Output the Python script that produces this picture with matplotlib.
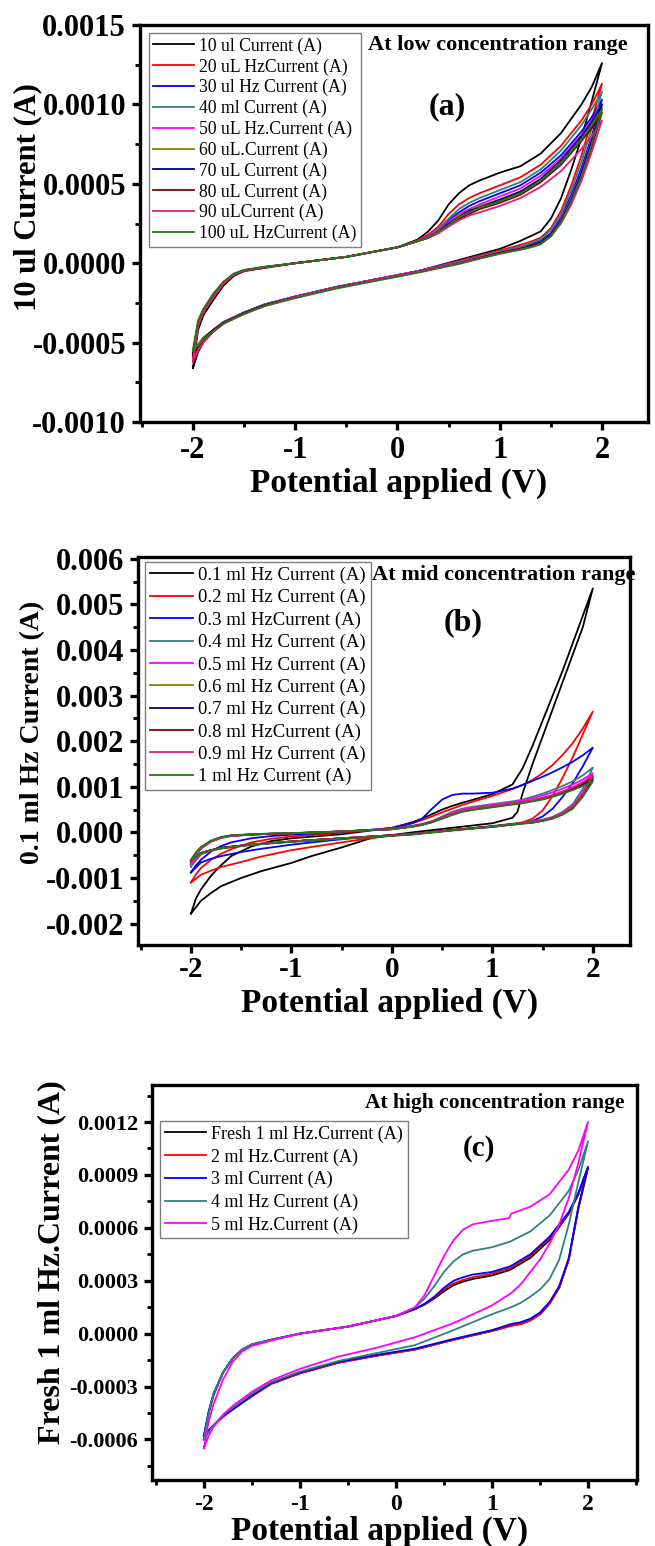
import matplotlib
matplotlib.use("Agg")
import matplotlib.pyplot as plt
from matplotlib.ticker import MultipleLocator, FormatStrFormatter, AutoMinorLocator

plt.rcParams['font.family'] = ['Liberation Serif', 'DejaVu Serif']

W, H = 655, 1546
fig = plt.figure(figsize=(W / 100, H / 100), dpi=100)

def fx(x):
    return x / W

def fy(y):
    return 1 - y / H

COLORS10 = ['#000000', '#FF0000', '#0000FF', '#2F8080', '#FF00FF',
            '#808000', '#000080', '#800000', '#E61C78', '#207818']
COLORS5 = ['#000000', '#FF0000', '#0000FF', '#2F8080', '#FF00FF']

# ---------------- Panel (a): low concentration (values in mA) ----------------
LABELS_A = ['10 ul Current (A)', '20 uL HzCurrent (A)', '30 ul Hz Current (A)',
            '40 ml Current (A)', '50 uL Hz.Current (A)', '60 uL.Current (A)',
            '70 uL Current (A)', '80 uL Current (A)', '90 uLCurrent (A)',
            '100 uL HzCurrent (A)']
VA_FWD = [-2.0, -1.95, -1.9, -1.8, -1.7, -1.6, -1.5, -1.3, -1.0, -0.5, 0.0, 0.2,
          0.3, 0.4, 0.5, 0.6, 0.7, 0.8, 1.0, 1.2, 1.4, 1.6, 1.8, 1.9, 2.0]
VA_REV = [2.0, 1.9, 1.8, 1.7, 1.6, 1.5, 1.4, 1.3, 1.2, 1.0, 0.6, 0.2, -0.2, -0.6,
          -1.0, -1.3, -1.5, -1.7, -1.8, -1.9, -1.95, -2.0]
IA_FWD = [
    [-0.66, -0.42, -0.33, -0.23, -0.14, -0.08, -0.05, -0.03, 0.00, 0.04, 0.10, 0.15,
     0.20, 0.27, 0.37, 0.44, 0.49, 0.52, 0.57, 0.61, 0.69, 0.82, 1.00, 1.11, 1.26],
    [-0.60, -0.40, -0.31, -0.21, -0.13, -0.075, -0.048, -0.028, 0.00, 0.04, 0.10, 0.145,
     0.18, 0.23, 0.31, 0.37, 0.41, 0.44, 0.49, 0.54, 0.62, 0.74, 0.90, 1.00, 1.13],
    [-0.57, -0.38, -0.30, -0.20, -0.12, -0.07, -0.045, -0.025, 0.00, 0.04, 0.10, 0.14,
     0.17, 0.21, 0.27, 0.32, 0.36, 0.39, 0.44, 0.49, 0.57, 0.68, 0.83, 0.92, 1.03],
    [-0.56, -0.38, -0.30, -0.20, -0.12, -0.07, -0.045, -0.025, 0.00, 0.04, 0.10, 0.14,
     0.17, 0.22, 0.28, 0.34, 0.38, 0.41, 0.46, 0.51, 0.59, 0.71, 0.87, 0.97, 1.08],
    [-0.58, -0.38, -0.30, -0.20, -0.12, -0.07, -0.045, -0.025, 0.00, 0.04, 0.10, 0.14,
     0.17, 0.21, 0.26, 0.31, 0.34, 0.37, 0.42, 0.47, 0.55, 0.66, 0.81, 0.90, 1.00],
    [-0.55, -0.37, -0.29, -0.20, -0.12, -0.07, -0.045, -0.025, 0.00, 0.04, 0.10, 0.14,
     0.16, 0.20, 0.25, 0.30, 0.33, 0.36, 0.40, 0.45, 0.53, 0.64, 0.79, 0.88, 0.98],
    [-0.57, -0.38, -0.30, -0.20, -0.12, -0.07, -0.045, -0.025, 0.00, 0.04, 0.10, 0.14,
     0.16, 0.20, 0.25, 0.29, 0.33, 0.35, 0.40, 0.45, 0.53, 0.65, 0.80, 0.89, 1.00],
    [-0.58, -0.38, -0.30, -0.20, -0.12, -0.07, -0.045, -0.025, 0.00, 0.04, 0.10, 0.14,
     0.16, 0.19, 0.24, 0.28, 0.31, 0.34, 0.38, 0.43, 0.51, 0.62, 0.77, 0.85, 0.95],
    [-0.62, -0.39, -0.31, -0.21, -0.125, -0.072, -0.046, -0.026, 0.00, 0.04, 0.10, 0.14,
     0.16, 0.19, 0.23, 0.27, 0.30, 0.32, 0.36, 0.41, 0.48, 0.58, 0.72, 0.80, 0.90],
    [-0.55, -0.36, -0.29, -0.19, -0.115, -0.065, -0.042, -0.022, 0.00, 0.04, 0.10, 0.14,
     0.16, 0.20, 0.24, 0.29, 0.32, 0.35, 0.39, 0.44, 0.52, 0.63, 0.78, 0.87, 0.97],
]
IA_REV = [
    [1.26, 1.02, 0.79, 0.59, 0.41, 0.28, 0.20, 0.17, 0.14, 0.09, 0.02, -0.05, -0.10, -0.15,
     -0.21, -0.26, -0.31, -0.38, -0.43, -0.50, -0.56, -0.66],
    [1.13, 0.90, 0.68, 0.49, 0.33, 0.22, 0.16, 0.135, 0.115, 0.08, 0.015, -0.05, -0.10, -0.15,
     -0.21, -0.26, -0.31, -0.37, -0.42, -0.48, -0.53, -0.60],
    [1.03, 0.80, 0.60, 0.43, 0.29, 0.19, 0.14, 0.12, 0.10, 0.07, 0.01, -0.05, -0.10, -0.15,
     -0.21, -0.26, -0.31, -0.37, -0.42, -0.47, -0.52, -0.57],
    [1.08, 0.85, 0.64, 0.46, 0.31, 0.21, 0.15, 0.125, 0.105, 0.075, 0.01, -0.05, -0.10, -0.15,
     -0.21, -0.26, -0.31, -0.37, -0.42, -0.47, -0.52, -0.56],
    [1.00, 0.78, 0.58, 0.41, 0.28, 0.18, 0.13, 0.11, 0.095, 0.07, 0.005, -0.05, -0.10, -0.155,
     -0.21, -0.265, -0.315, -0.37, -0.42, -0.48, -0.53, -0.58],
    [0.98, 0.76, 0.56, 0.40, 0.27, 0.18, 0.13, 0.11, 0.09, 0.065, 0.0, -0.055, -0.105, -0.155,
     -0.215, -0.265, -0.315, -0.375, -0.42, -0.47, -0.51, -0.55],
    [1.00, 0.77, 0.57, 0.40, 0.27, 0.18, 0.13, 0.11, 0.09, 0.065, 0.0, -0.055, -0.105, -0.155,
     -0.215, -0.265, -0.315, -0.375, -0.42, -0.48, -0.53, -0.57],
    [0.95, 0.73, 0.54, 0.38, 0.26, 0.17, 0.125, 0.105, 0.09, 0.065, 0.0, -0.055, -0.105, -0.155,
     -0.215, -0.265, -0.315, -0.375, -0.42, -0.48, -0.53, -0.58],
    [0.90, 0.70, 0.52, 0.37, 0.25, 0.17, 0.12, 0.10, 0.085, 0.06, 0.0, -0.055, -0.105, -0.155,
     -0.215, -0.27, -0.32, -0.38, -0.43, -0.50, -0.55, -0.62],
    [0.97, 0.75, 0.55, 0.39, 0.26, 0.17, 0.12, 0.10, 0.085, 0.06, -0.005, -0.06, -0.11, -0.16,
     -0.22, -0.27, -0.32, -0.38, -0.43, -0.48, -0.52, -0.55],
]

# ---------------- Panel (b): mid concentration (values in mA) ----------------
LABELS_B = ['0.1 ml Hz Current (A)', '0.2 ml Hz Current (A)', '0.3 ml HzCurrent (A)',
            '0.4 ml Hz Current (A)', '0.5 ml Hz Current (A)', '0.6 ml Hz Current (A)',
            '0.7 ml Hz Current (A)', '0.8 ml HzCurrent (A)', '0.9 ml Hz Current (A)',
            '1 ml Hz Current (A)']
VB_FWD = [-2.0, -1.95, -1.9, -1.8, -1.7, -1.6, -1.4, -1.2, -1.0, -0.5, 0.0, 0.2, 0.3,
          0.4, 0.5, 0.6, 0.7, 0.8, 1.0, 1.2, 1.3, 1.4, 1.5, 1.6, 1.7, 1.8, 1.9, 2.0]
VB_REV = [2.0, 1.9, 1.8, 1.7, 1.6, 1.5, 1.4, 1.3, 1.25, 1.2, 1.0, 0.6, 0.2, -0.2, -0.5,
          -0.8, -1.0, -1.3, -1.5, -1.7, -1.8, -1.9, -2.0]
IB_FWD = [
    [-1.78, -1.45, -1.25, -0.95, -0.72, -0.52, -0.31, -0.19, -0.13, -0.04, 0.10, 0.22, 0.30,
     0.40, 0.50, 0.58, 0.65, 0.71, 0.84, 1.05, 1.40, 1.90, 2.45, 3.00, 3.55, 4.15, 4.75, 5.35],
    [-1.10, -0.92, -0.78, -0.60, -0.47, -0.37, -0.22, -0.14, -0.09, -0.01, 0.10, 0.20, 0.27,
     0.35, 0.44, 0.52, 0.60, 0.67, 0.80, 0.95, 1.04, 1.15, 1.30, 1.48, 1.70, 1.96, 2.28, 2.65],
    [-0.88, -0.72, -0.60, -0.42, -0.30, -0.22, -0.13, -0.08, -0.05, 0.01, 0.09, 0.20, 0.30,
     0.52, 0.72, 0.82, 0.85, 0.85, 0.87, 0.96, 1.04, 1.13, 1.22, 1.32, 1.43, 1.55, 1.69, 1.86],
    [-0.75, -0.50, -0.36, -0.20, -0.12, -0.08, -0.05, -0.03, -0.02, 0.02, 0.08, 0.14, 0.18,
     0.25, 0.35, 0.45, 0.52, 0.56, 0.62, 0.68, 0.72, 0.78, 0.85, 0.93, 1.02, 1.12, 1.25, 1.42],
    [-0.70, -0.48, -0.35, -0.20, -0.12, -0.08, -0.05, -0.03, -0.02, 0.02, 0.08, 0.14, 0.18,
     0.24, 0.33, 0.43, 0.50, 0.54, 0.60, 0.66, 0.70, 0.75, 0.81, 0.88, 0.96, 1.05, 1.16, 1.30],
    [-0.62, -0.45, -0.33, -0.19, -0.11, -0.07, -0.045, -0.03, -0.02, 0.02, 0.07, 0.13, 0.17,
     0.23, 0.31, 0.40, 0.47, 0.51, 0.57, 0.63, 0.66, 0.70, 0.75, 0.81, 0.88, 0.96, 1.07, 1.20],
    [-0.65, -0.46, -0.34, -0.19, -0.11, -0.07, -0.045, -0.03, -0.02, 0.02, 0.07, 0.13, 0.17,
     0.23, 0.31, 0.40, 0.46, 0.50, 0.56, 0.62, 0.65, 0.69, 0.74, 0.80, 0.86, 0.94, 1.04, 1.15],
    [-0.62, -0.45, -0.33, -0.19, -0.11, -0.07, -0.045, -0.03, -0.02, 0.02, 0.07, 0.13, 0.17,
     0.23, 0.31, 0.40, 0.47, 0.51, 0.57, 0.63, 0.66, 0.70, 0.75, 0.81, 0.88, 0.97, 1.08, 1.22],
    [-0.68, -0.47, -0.35, -0.20, -0.12, -0.075, -0.05, -0.03, -0.02, 0.02, 0.07, 0.13, 0.17,
     0.23, 0.32, 0.41, 0.48, 0.52, 0.58, 0.64, 0.67, 0.71, 0.76, 0.82, 0.90, 0.99, 1.10, 1.25],
    [-0.60, -0.44, -0.32, -0.18, -0.10, -0.065, -0.04, -0.025, -0.015, 0.02, 0.07, 0.12, 0.16,
     0.22, 0.30, 0.38, 0.45, 0.49, 0.55, 0.61, 0.64, 0.68, 0.72, 0.78, 0.85, 0.93, 1.02, 1.12],
]
IB_REV = [
    [5.35, 4.50, 3.90, 3.30, 2.70, 2.10, 1.50, 0.85, 0.45, 0.32, 0.20, 0.10, 0.00, -0.12, -0.33,
     -0.52, -0.67, -0.85, -1.00, -1.18, -1.33, -1.50, -1.78],
    [2.65, 2.15, 1.65, 1.20, 0.80, 0.48, 0.30, 0.22, 0.20, 0.18, 0.13, 0.05, -0.03, -0.12, -0.22,
     -0.32, -0.39, -0.53, -0.65, -0.76, -0.84, -0.93, -1.10],
    [1.86, 1.45, 1.08, 0.78, 0.52, 0.35, 0.25, 0.20, 0.18, 0.17, 0.12, 0.05, -0.03, -0.09, -0.15,
     -0.22, -0.27, -0.36, -0.43, -0.52, -0.58, -0.66, -0.88],
    [1.42, 0.95, 0.62, 0.45, 0.34, 0.28, 0.24, 0.21, 0.20, 0.19, 0.14, 0.05, -0.04, -0.09, -0.13,
     -0.17, -0.20, -0.25, -0.29, -0.35, -0.40, -0.48, -0.75],
    [1.30, 0.88, 0.58, 0.43, 0.33, 0.27, 0.23, 0.20, 0.19, 0.18, 0.13, 0.05, -0.04, -0.09, -0.13,
     -0.17, -0.20, -0.25, -0.29, -0.35, -0.40, -0.47, -0.70],
    [1.20, 0.82, 0.55, 0.41, 0.32, 0.26, 0.22, 0.20, 0.19, 0.18, 0.13, 0.05, -0.04, -0.09, -0.13,
     -0.17, -0.20, -0.25, -0.29, -0.34, -0.39, -0.45, -0.62],
    [1.15, 0.80, 0.54, 0.40, 0.31, 0.26, 0.22, 0.20, 0.19, 0.18, 0.13, 0.05, -0.04, -0.09, -0.13,
     -0.17, -0.20, -0.25, -0.29, -0.34, -0.39, -0.46, -0.65],
    [1.22, 0.83, 0.56, 0.41, 0.32, 0.26, 0.22, 0.20, 0.19, 0.18, 0.13, 0.05, -0.04, -0.09, -0.13,
     -0.17, -0.20, -0.25, -0.29, -0.34, -0.39, -0.45, -0.62],
    [1.25, 0.85, 0.57, 0.42, 0.32, 0.27, 0.23, 0.20, 0.19, 0.18, 0.13, 0.05, -0.04, -0.09, -0.13,
     -0.17, -0.20, -0.25, -0.29, -0.35, -0.40, -0.47, -0.68],
    [1.12, 0.78, 0.52, 0.39, 0.30, 0.25, 0.21, 0.19, 0.18, 0.17, 0.12, 0.04, -0.05, -0.10, -0.14,
     -0.18, -0.21, -0.26, -0.30, -0.35, -0.39, -0.45, -0.60],
]

# ---------------- Panel (c): high concentration (values in mA) ----------------
LABELS_C = ['Fresh 1 ml Hz.Current (A)', '2 ml Hz.Current (A)', '3 ml Current (A)',
            '4 ml Hz Current (A)', '5 ml Hz.Current (A)']
VC_FWD = [-2.0, -1.95, -1.9, -1.8, -1.7, -1.6, -1.5, -1.3, -1.0, -0.5, 0.0, 0.2,
          0.3, 0.4, 0.5, 0.6, 0.7, 0.8, 1.0, 1.18, 1.2, 1.4, 1.6, 1.8, 1.9, 2.0]
VC_REV = [2.0, 1.9, 1.8, 1.7, 1.6, 1.5, 1.4, 1.3, 1.2, 1.0, 0.6, 0.2, -0.2, -0.6,
          -1.0, -1.3, -1.5, -1.7, -1.8, -1.9, -1.95, -2.0]
IC_FWD = [
    [-0.58, -0.45, -0.35, -0.22, -0.14, -0.09, -0.065, -0.035, 0.00, 0.04, 0.10, 0.14,
     0.165, 0.20, 0.24, 0.275, 0.295, 0.31, 0.33, 0.36, 0.365, 0.43, 0.53, 0.68, 0.79, 0.94],
    [-0.60, -0.45, -0.35, -0.22, -0.14, -0.09, -0.065, -0.035, 0.00, 0.04, 0.10, 0.14,
     0.168, 0.205, 0.25, 0.285, 0.305, 0.32, 0.34, 0.37, 0.375, 0.44, 0.54, 0.685, 0.795, 0.945],
    [-0.58, -0.44, -0.34, -0.22, -0.14, -0.09, -0.06, -0.035, 0.00, 0.04, 0.10, 0.14,
     0.17, 0.21, 0.26, 0.30, 0.32, 0.335, 0.35, 0.38, 0.385, 0.45, 0.55, 0.69, 0.80, 0.945],
    [-0.60, -0.45, -0.34, -0.22, -0.14, -0.09, -0.06, -0.035, 0.00, 0.04, 0.10, 0.15,
     0.20, 0.27, 0.35, 0.41, 0.45, 0.47, 0.49, 0.52, 0.525, 0.58, 0.67, 0.81, 0.93, 1.09],
    [-0.65, -0.50, -0.40, -0.26, -0.16, -0.10, -0.07, -0.04, 0.00, 0.04, 0.10, 0.15,
     0.22, 0.33, 0.44, 0.53, 0.59, 0.62, 0.64, 0.655, 0.68, 0.72, 0.79, 0.93, 1.04, 1.20],
]
IC_REV = [
    [0.94, 0.71, 0.42, 0.26, 0.17, 0.11, 0.075, 0.055, 0.045, 0.015, -0.035, -0.09, -0.125,
     -0.165, -0.225, -0.285, -0.355, -0.43, -0.47, -0.52, -0.55, -0.58],
    [0.945, 0.715, 0.42, 0.26, 0.17, 0.11, 0.075, 0.055, 0.045, 0.015, -0.035, -0.09, -0.125,
     -0.165, -0.225, -0.285, -0.355, -0.43, -0.47, -0.52, -0.55, -0.60],
    [0.945, 0.72, 0.43, 0.27, 0.18, 0.12, 0.085, 0.065, 0.055, 0.02, -0.03, -0.085, -0.12,
     -0.16, -0.22, -0.28, -0.35, -0.43, -0.47, -0.52, -0.55, -0.58],
    [1.09, 0.86, 0.62, 0.42, 0.31, 0.25, 0.21, 0.175, 0.15, 0.11, 0.02, -0.065, -0.11,
     -0.155, -0.215, -0.275, -0.34, -0.42, -0.46, -0.52, -0.56, -0.60],
    [1.20, 0.97, 0.77, 0.62, 0.51, 0.42, 0.35, 0.28, 0.23, 0.16, 0.06, -0.02, -0.08,
     -0.13, -0.20, -0.265, -0.33, -0.41, -0.46, -0.53, -0.58, -0.65],
]

MA = 1e-3  # mA -> A


def style_axes(ax, xlim, ylim, ymajor, yfmt, xfs, yfs, xpad=4):
    ax.set_xlim(*xlim)
    ax.set_ylim(*ylim)
    ax.xaxis.set_major_locator(MultipleLocator(1))
    ax.xaxis.set_minor_locator(MultipleLocator(0.5))
    ax.yaxis.set_major_locator(MultipleLocator(ymajor))
    ax.yaxis.set_minor_locator(AutoMinorLocator(2))
    ax.yaxis.set_major_formatter(FormatStrFormatter(yfmt))
    ax.xaxis.set_major_formatter(FormatStrFormatter('%d'))
    for s in ax.spines.values():
        s.set_linewidth(2.4)
    ax.tick_params(which='major', direction='out', length=6, width=2.4, pad=4,
                   top=False, right=False)
    ax.tick_params(which='minor', direction='out', length=3.5, width=2.0,
                   top=False, right=False)
    ax.tick_params(axis='x', labelsize=xfs, pad=xpad)
    ax.tick_params(axis='y', labelsize=yfs)
    for lab in ax.get_xticklabels() + ax.get_yticklabels():
        lab.set_fontweight('bold')


def draw_panel(ax, vf, vr, fwd, rev, colors, labels):
    for i in range(len(fwd)):
        xs = list(vf) + list(vr[1:])
        ys = [v * MA for v in fwd[i]] + [v * MA for v in rev[i][1:]]
        ax.plot(xs, ys, color=colors[i], lw=1.3, label=labels[i])


def add_legend(ax, anchor, fs, spacing):
    leg = ax.legend(loc='upper left', bbox_to_anchor=anchor, fontsize=fs,
                    frameon=True, fancybox=False, edgecolor='#7f7f7f', framealpha=1,
                    handlelength=2.3, handletextpad=0.3, borderpad=0.25,
                    labelspacing=spacing, borderaxespad=0)
    leg.get_frame().set_linewidth(1.0)


# Panel (a)
axA = fig.add_axes([fx(140), fy(422), fx(508), 397 / H])
draw_panel(axA, VA_FWD, VA_REV, IA_FWD, IA_REV, COLORS10, LABELS_A)
style_axes(axA, (-2.518, 2.45), (-0.0010, 0.0015), 0.0005, '%.4f', 22, 22)
add_legend(axA, (0.0177, 0.980), 12.7, 0.2)

# Panel (b)
axB = fig.add_axes([fx(138), fy(945), fx(492), 388 / H])
draw_panel(axB, VB_FWD, VB_REV, IB_FWD, IB_REV, COLORS10, LABELS_B)
style_axes(axB, (-2.527, 2.37), (-0.00247, 0.00604), 0.001, '%.3f', 21, 22, xpad=2)
add_legend(axB, (0.0142, 0.987), 13.5, 0.27)

# Panel (c)
axC = fig.add_axes([fx(152), fy(1480), fx(485), 395 / H])
draw_panel(axC, VC_FWD, VC_REV, IC_FWD, IC_REV, COLORS5, LABELS_C)
style_axes(axC, (-2.54, 2.51), (-0.00083, 0.00141), 0.0003, '%.4f', 17, 16)
add_legend(axC, (0.0165, 0.909), 13, 0.3)

# Annotations
fig.text(fx(368), fy(45), 'At low concentration range', ha='left', va='center',
         fontsize=16, fontweight='bold')
fig.text(fx(447), fy(107), '(a)', ha='center', va='center', fontsize=23, fontweight='bold')
fig.text(fx(372), fy(575), 'At mid concentration range', ha='left', va='center',
         fontsize=16, fontweight='bold')
fig.text(fx(463), fy(623), '(b)', ha='center', va='center', fontsize=23, fontweight='bold')
fig.text(fx(365), fy(1103), 'At high concentration range', ha='left', va='center',
         fontsize=15.5, fontweight='bold')
fig.text(fx(479), fy(1148), '(c)', ha='center', va='center', fontsize=21, fontweight='bold')

# Axis labels
fig.text(fx(399), fy(483), 'Potential applied (V)', ha='center', va='center',
         fontsize=24, fontweight='bold')
fig.text(fx(390), fy(1003), 'Potential applied (V)', ha='center', va='center',
         fontsize=24, fontweight='bold')
fig.text(fx(380), fy(1531), 'Potential applied (V)', ha='center', va='center',
         fontsize=24, fontweight='bold')
fig.text(fx(28), fy(197), '10 ul Current (A)', ha='center', va='center', rotation=90,
         fontsize=22, fontweight='bold')
fig.text(fx(33), fy(732), '0.1 ml Hz Current (A)', ha='center', va='center', rotation=90,
         fontsize=20, fontweight='bold')
fig.text(fx(52), fy(1262), 'Fresh 1 ml Hz.Current (A)', ha='center', va='center', rotation=90,
         fontsize=23, fontweight='bold')

fig.savefig('out.png', dpi=100)
